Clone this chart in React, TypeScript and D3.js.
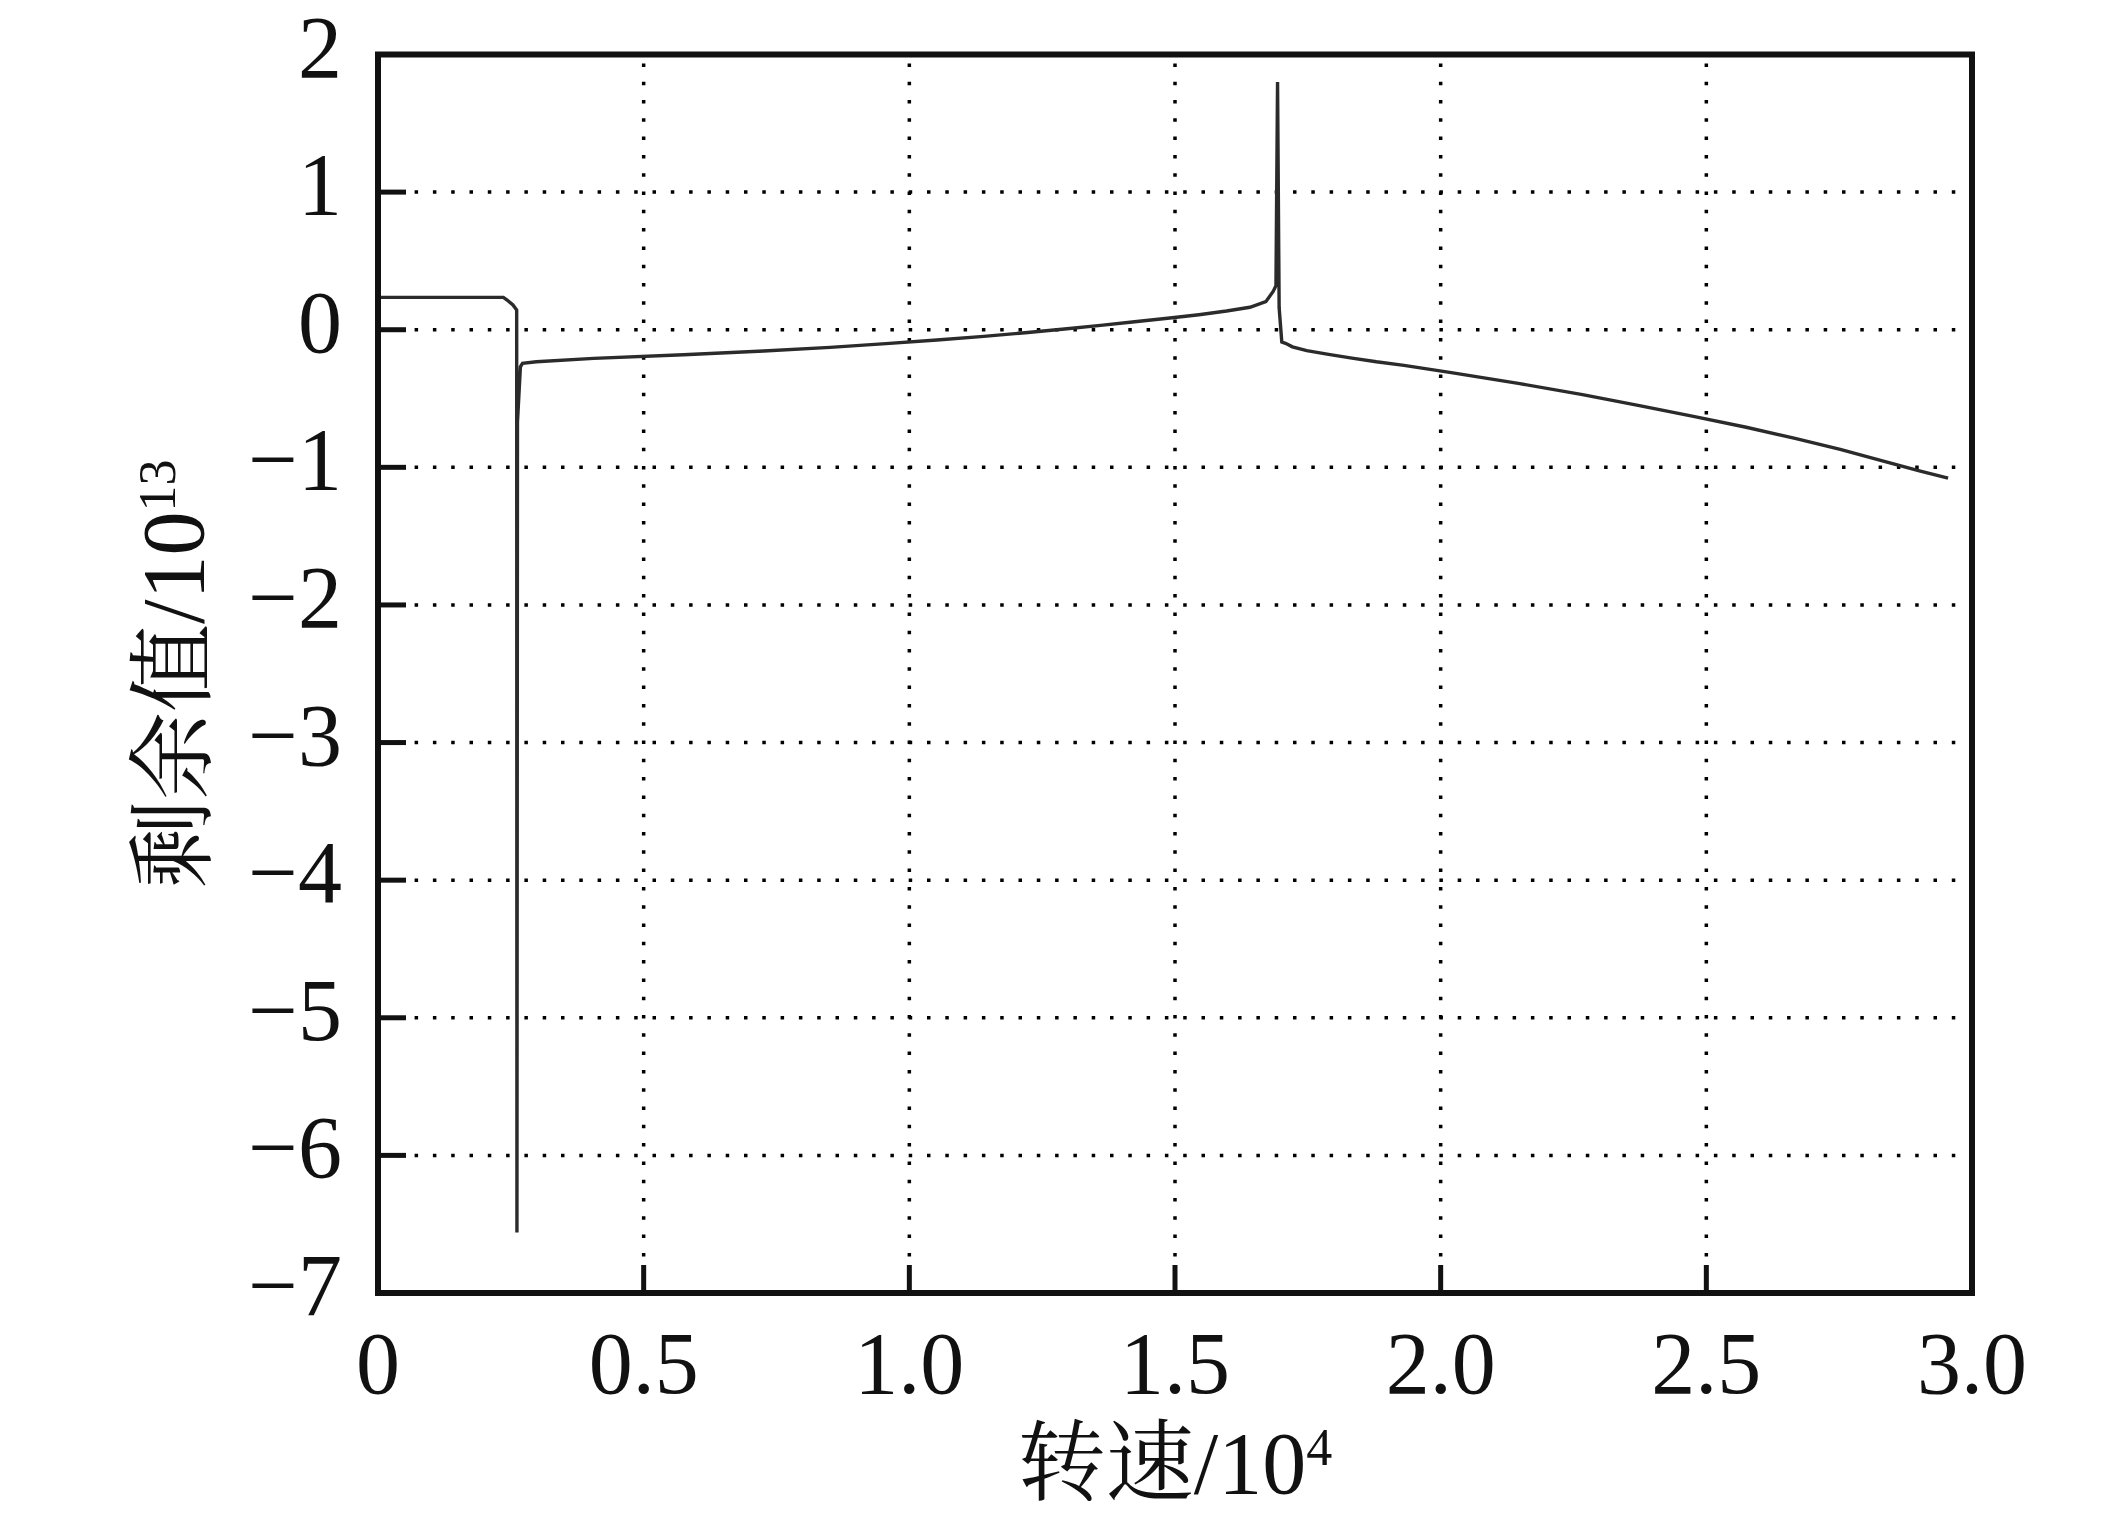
import React, { useEffect, useRef } from "react";
import * as d3 from "d3";

// speed in units of 10^4, residual in units of 10^13
const speed = [
  0, 0.236, 0.243, 0.254, 0.261, 0.2615, 0.2625, 0.268, 0.272, 0.298, 0.406,
  0.575, 0.726, 0.851, 0.956, 1.052, 1.14, 1.218, 1.292, 1.36, 1.424, 1.486,
  1.545, 1.597, 1.641, 1.671, 1.685, 1.69, 1.693, 1.696, 1.701, 1.708, 1.721,
  1.748, 1.789, 1.833, 1.879, 1.931, 2.02, 2.149, 2.267, 2.374, 2.478, 2.575,
  2.667, 2.752, 2.828, 2.901, 2.955,
];
const residual = [
  0.235, 0.235, 0.216, 0.18, 0.143, -6.56, -0.67, -0.27, -0.244, -0.233,
  -0.208, -0.182, -0.155, -0.128, -0.101, -0.075, -0.048, -0.022, 0.005, 0.032,
  0.058, 0.083, 0.109, 0.136, 0.163, 0.204, 0.28, 0.32, 1.8, 0.16, -0.09,
  -0.099, -0.124, -0.152, -0.179, -0.206, -0.233, -0.259, -0.312, -0.392,
  -0.472, -0.552, -0.632, -0.709, -0.789, -0.869, -0.949, -1.025, -1.078,
];

const xTicks = [0, 0.5, 1.0, 1.5, 2.0, 2.5, 3.0];
const xTickLabels = ["0", "0.5", "1.0", "1.5", "2.0", "2.5", "3.0"];
const yTicks = [2, 1, 0, -1, -2, -3, -4, -5, -6, -7];
const yTickLabels = ["2", "1", "0", "−1", "−2", "−3", "−4", "−5", "−6", "−7"];

const xTitle = "转速/10";
const xTitleSup = "4";
const yTitle = "剩余值/10";
const yTitleSup = "13";

export default function App() {
  const svgRef = useRef<SVGSVGElement>(null);

  useEffect(() => {
    const W = 2126;
    const H = 1524;
    const margin = { top: 54.5, right: 154, bottom: 231, left: 378 };
    const width = W - margin.left - margin.right;
    const height = H - margin.top - margin.bottom;
    const serif = "'Liberation Serif', 'Times New Roman', 'Noto Serif CJK SC', 'Noto Sans CJK SC', serif";

    const root = d3.select(svgRef.current);
    root.selectAll("*").remove();
    root.attr("width", W).attr("height", H);

    const svg = root
      .append("g")
      .attr("transform", `translate(${margin.left},${margin.top})`);

    const x = d3.scaleLinear().domain([0, 3]).range([0, width]);
    const y = d3.scaleLinear().domain([-7, 2]).range([height, 0]);

    // dotted grid
    const grid = svg.append("g");
    grid
      .selectAll(".vgrid")
      .data(xTicks.filter((d) => d > 0 && d < 3))
      .enter()
      .append("line")
      .attr("x1", (d) => x(d))
      .attr("x2", (d) => x(d))
      .attr("y1", height)
      .attr("y2", 0)
      .attr("stroke", "#000")
      .attr("stroke-width", 3.5)
      .attr("stroke-dasharray", "3.5 14.8");
    grid
      .selectAll(".hgrid")
      .data(yTicks.filter((d) => d > -7 && d < 2))
      .enter()
      .append("line")
      .attr("x1", 0)
      .attr("x2", width)
      .attr("y1", (d) => y(d))
      .attr("y2", (d) => y(d))
      .attr("stroke", "#000")
      .attr("stroke-width", 3.5)
      .attr("stroke-dasharray", "3.5 14.8");

    // data line
    const pts = speed.map((s, i) => [s, residual[i]] as [number, number]);
    const line = d3
      .line<[number, number]>()
      .x((d) => x(d[0]))
      .y((d) => y(d[1]));
    svg
      .append("path")
      .datum(pts)
      .attr("fill", "none")
      .attr("stroke", "#2b2b2b")
      .attr("stroke-width", 3.4)
      .attr("stroke-linejoin", "miter")
      .attr("stroke-miterlimit", 2)
      .attr("d", line);

    // ticks (inward, left and bottom)
    svg
      .selectAll(".xtick")
      .data(xTicks)
      .enter()
      .append("line")
      .attr("x1", (d) => x(d))
      .attr("x2", (d) => x(d))
      .attr("y1", height)
      .attr("y2", height - 28)
      .attr("stroke", "#111")
      .attr("stroke-width", 5);
    svg
      .selectAll(".ytick")
      .data(yTicks)
      .enter()
      .append("line")
      .attr("x1", 0)
      .attr("x2", 28)
      .attr("y1", (d) => y(d))
      .attr("y2", (d) => y(d))
      .attr("stroke", "#111")
      .attr("stroke-width", 5);

    // frame
    svg
      .append("rect")
      .attr("x", 0)
      .attr("y", 0)
      .attr("width", width)
      .attr("height", height)
      .attr("fill", "none")
      .attr("stroke", "#111")
      .attr("stroke-width", 6);

    // tick labels
    svg
      .selectAll(".xlabel")
      .data(xTicks)
      .enter()
      .append("text")
      .attr("x", (d) => x(d))
      .attr("y", height + 100)
      .attr("text-anchor", "middle")
      .attr("font-family", serif)
      .attr("font-size", 88)
      .attr("fill", "#111")
      .text((d, i) => xTickLabels[i]);
    svg
      .selectAll(".ylabel")
      .data(yTicks)
      .enter()
      .append("text")
      .attr("x", -36)
      .attr("y", (d) => y(d) + 22)
      .attr("text-anchor", "end")
      .attr("font-family", serif)
      .attr("font-size", 88)
      .attr("fill", "#111")
      .text((d, i) => yTickLabels[i]);

    // axis titles
    const xt = svg
      .append("text")
      .attr("x", width / 2)
      .attr("y", height + 200)
      .attr("text-anchor", "middle")
      .attr("font-family", serif)
      .attr("font-size", 88)
      .attr("fill", "#111");
    xt.append("tspan").text(xTitle);
    xt.append("tspan").attr("font-size", 52).attr("dy", -28).text(xTitleSup);

    const yt = svg
      .append("text")
      .attr("transform", `translate(${-175},${height / 2}) rotate(-90)`)
      .attr("text-anchor", "middle")
      .attr("font-family", serif)
      .attr("font-size", 88)
      .attr("fill", "#111");
    yt.append("tspan").text(yTitle);
    yt.append("tspan").attr("font-size", 52).attr("dy", -28).text(yTitleSup);
  }, []);

  return (
    <svg
      ref={svgRef}
      style={{ position: "absolute", left: 0, top: 0, background: "#fff" }}
    ></svg>
  );
}
